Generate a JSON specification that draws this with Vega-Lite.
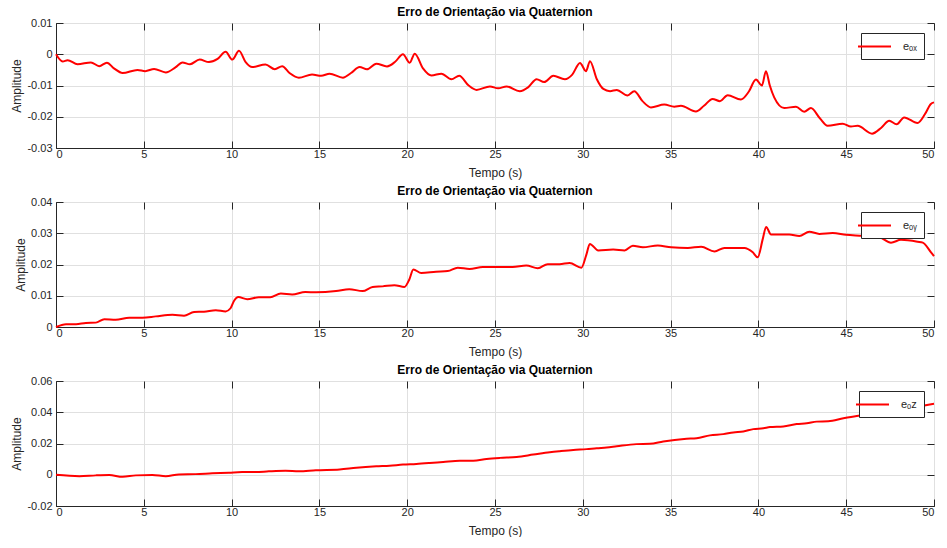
{
  "$schema": "https://vega.github.io/schema/vega-lite/v6.json",
  "background": "white",
  "padding": {"left": 10, "top": 5, "right": 0, "bottom": 0},
  "bounds": "flush",
  "spacing": 54,
  "config": {
    "font": "Liberation Sans",
    "view": {"stroke": "#262626", "strokeWidth": 1},
    "axis": {
      "domainColor": "#262626", "tickColor": "#262626", "labelColor": "#262626", "titleColor": "#262626",
      "labelFontSize": 11, "titleFontSize": 12, "titleFontWeight": "normal",
      "gridColor": "#e0e0e0", "gridWidth": 1, "tickSize": -7, "tickWidth": 1
    },
    "axisY": {"labelPadding": 11, "titlePadding": 3},
    "title": {"fontSize": 12, "fontWeight": "bold", "color": "#000000", "offset": -2},
    "legend": {
      "orient": "top-right", "offset": 10, "symbolType": "M-3,0H3", "symbolStrokeWidth": 2, "symbolSize": 121,
      "strokeColor": "#262626", "fillColor": "white", "padding": 7, "labelFontSize": 11, "labelColor": "#262626", "cornerRadius": 0, "labelOffset": 22
    }
  },
  "resolve": {"scale": {"color": "independent"}, "legend": {"color": "independent"}},
  "datasets": {
    "ox": [
      {"t":0,"v":0},{"t":0.38,"v":-0.0023},{"t":0.66,"v":-0.0019},{"t":1.23,"v":-0.0032},{"t":1.99,"v":-0.0026},{"t":2.46,"v":-0.0038},{"t":2.9,"v":-0.0027},{"t":3.3,"v":-0.0045},{"t":3.79,"v":-0.006},{"t":4.64,"v":-0.005},{"t":5.08,"v":-0.0054},{"t":5.59,"v":-0.0047},{"t":6.25,"v":-0.0058},{"t":6.8,"v":-0.0042},{"t":7.2,"v":-0.0026},{"t":7.63,"v":-0.0032},{"t":8.18,"v":-0.0017},{"t":8.71,"v":-0.0025},{"t":9.2,"v":-0.0015},{"t":9.66,"v":0.0008},{"t":10.04,"v":-0.0017},{"t":10.42,"v":0.0011},{"t":10.8,"v":-0.0025},{"t":11.17,"v":-0.0041},{"t":11.93,"v":-0.0033},{"t":12.46,"v":-0.0048},{"t":12.88,"v":-0.0038},{"t":13.3,"v":-0.006},{"t":13.83,"v":-0.0075},{"t":14.58,"v":-0.0065},{"t":15.1,"v":-0.0069},{"t":15.58,"v":-0.0062},{"t":16.34,"v":-0.0075},{"t":16.8,"v":-0.006},{"t":17.29,"v":-0.0041},{"t":17.71,"v":-0.0048},{"t":18.24,"v":-0.003},{"t":18.85,"v":-0.0039},{"t":19.3,"v":-0.0025},{"t":19.76,"v":0.0},{"t":20.14,"v":-0.0027},{"t":20.43,"v":0.0002},{"t":20.9,"v":-0.0045},{"t":21.38,"v":-0.0068},{"t":21.95,"v":-0.0062},{"t":22.52,"v":-0.008},{"t":22.96,"v":-0.0069},{"t":23.5,"v":-0.01},{"t":23.95,"v":-0.0114},{"t":24.71,"v":-0.0103},{"t":25.18,"v":-0.0109},{"t":25.66,"v":-0.0103},{"t":26.41,"v":-0.0118},{"t":26.9,"v":-0.0105},{"t":27.37,"v":-0.008},{"t":27.8,"v":-0.0089},{"t":28.32,"v":-0.0069},{"t":28.98,"v":-0.008},{"t":29.4,"v":-0.0065},{"t":29.84,"v":-0.0028},{"t":30.18,"v":-0.0054},{"t":30.41,"v":-0.0022},{"t":30.8,"v":-0.008},{"t":31.17,"v":-0.0111},{"t":31.55,"v":-0.0118},{"t":31.93,"v":-0.0114},{"t":32.55,"v":-0.0132},{"t":32.93,"v":-0.0118},{"t":33.4,"v":-0.015},{"t":33.88,"v":-0.017},{"t":34.64,"v":-0.0161},{"t":35.21,"v":-0.0168},{"t":35.59,"v":-0.0165},{"t":36.44,"v":-0.0183},{"t":36.9,"v":-0.0165},{"t":37.39,"v":-0.0143},{"t":37.81,"v":-0.015},{"t":38.25,"v":-0.0131},{"t":39.0,"v":-0.0145},{"t":39.45,"v":-0.012},{"t":39.86,"v":-0.0081},{"t":40.2,"v":-0.01},{"t":40.43,"v":-0.0054},{"t":40.65,"v":-0.01},{"t":40.9,"v":-0.0138},{"t":41.47,"v":-0.0172},{"t":42.14,"v":-0.0168},{"t":42.61,"v":-0.0184},{"t":42.99,"v":-0.0172},{"t":43.5,"v":-0.0205},{"t":43.94,"v":-0.0229},{"t":44.8,"v":-0.0222},{"t":45.27,"v":-0.0231},{"t":45.65,"v":-0.0229},{"t":46.47,"v":-0.0254},{"t":47.0,"v":-0.0235},{"t":47.45,"v":-0.0213},{"t":47.87,"v":-0.0224},{"t":48.3,"v":-0.0202},{"t":49.06,"v":-0.022},{"t":49.5,"v":-0.019},{"t":49.82,"v":-0.0159},{"t":50,"v":-0.0154}
    ],
    "oy": [
      {"t":0,"v":0},{"t":0.57,"v":0.0009},{"t":1.14,"v":0.0009},{"t":1.7,"v":0.0013},{"t":2.27,"v":0.0014},{"t":2.75,"v":0.0025},{"t":3.4,"v":0.0023},{"t":4.17,"v":0.003},{"t":4.92,"v":0.003},{"t":5.68,"v":0.0034},{"t":6.63,"v":0.0039},{"t":7.29,"v":0.0036},{"t":7.86,"v":0.0048},{"t":8.43,"v":0.0049},{"t":9.1,"v":0.0054},{"t":9.66,"v":0.005},{"t":9.94,"v":0.006},{"t":10.15,"v":0.0085},{"t":10.38,"v":0.0096},{"t":10.89,"v":0.0089},{"t":11.55,"v":0.0095},{"t":12.2,"v":0.0095},{"t":12.8,"v":0.0107},{"t":13.45,"v":0.0104},{"t":14.2,"v":0.0112},{"t":14.81,"v":0.0111},{"t":15.95,"v":0.0115},{"t":16.7,"v":0.0121},{"t":17.46,"v":0.0115},{"t":18.03,"v":0.0128},{"t":18.6,"v":0.013},{"t":19.27,"v":0.0134},{"t":19.84,"v":0.0128},{"t":20.12,"v":0.0152},{"t":20.35,"v":0.0184},{"t":20.8,"v":0.0173},{"t":21.64,"v":0.0177},{"t":22.31,"v":0.0179},{"t":22.88,"v":0.019},{"t":23.55,"v":0.0186},{"t":24.31,"v":0.0192},{"t":25.07,"v":0.0192},{"t":26.0,"v":0.0192},{"t":26.78,"v":0.0197},{"t":27.44,"v":0.0188},{"t":28.0,"v":0.0201},{"t":28.68,"v":0.0201},{"t":29.25,"v":0.0205},{"t":29.92,"v":0.019},{"t":30.2,"v":0.0231},{"t":30.4,"v":0.0266},{"t":30.88,"v":0.0245},{"t":31.73,"v":0.0248},{"t":32.38,"v":0.0245},{"t":32.85,"v":0.026},{"t":33.42,"v":0.0255},{"t":34.27,"v":0.0261},{"t":35.03,"v":0.0255},{"t":35.98,"v":0.0253},{"t":36.74,"v":0.0257},{"t":37.5,"v":0.0242},{"t":38.06,"v":0.0253},{"t":39.2,"v":0.0253},{"t":39.68,"v":0.0239},{"t":39.96,"v":0.0223},{"t":40.25,"v":0.0282},{"t":40.44,"v":0.032},{"t":40.72,"v":0.0296},{"t":41.76,"v":0.0296},{"t":42.33,"v":0.0291},{"t":42.9,"v":0.0305},{"t":43.47,"v":0.0298},{"t":44.23,"v":0.0301},{"t":44.99,"v":0.0295},{"t":45.94,"v":0.0292},{"t":46.89,"v":0.0287},{"t":47.55,"v":0.027},{"t":48.12,"v":0.0279},{"t":49.07,"v":0.0273},{"t":49.36,"v":0.027},{"t":49.83,"v":0.0239},{"t":50,"v":0.0227}
    ],
    "oz": [
      {"t":0,"v":0},{"t":1.33,"v":-0.0009},{"t":2.27,"v":-0.0004},{"t":3.03,"v":-0.0002},{"t":3.79,"v":-0.0013},{"t":4.55,"v":-0.0004},{"t":5.49,"v":-0.0002},{"t":6.25,"v":-0.0009},{"t":7.0,"v":0.0002},{"t":7.95,"v":0.0004},{"t":8.9,"v":0.0009},{"t":9.85,"v":0.0013},{"t":10.6,"v":0.0017},{"t":11.36,"v":0.0017},{"t":12.12,"v":0.0022},{"t":13.07,"v":0.0026},{"t":13.83,"v":0.0022},{"t":14.8,"v":0.0029},{"t":16.15,"v":0.0034},{"t":17.1,"v":0.0045},{"t":18.24,"v":0.0054},{"t":19.0,"v":0.0058},{"t":19.76,"v":0.0065},{"t":20.52,"v":0.0069},{"t":21.28,"v":0.0075},{"t":22.05,"v":0.0082},{"t":23.0,"v":0.009},{"t":23.76,"v":0.009},{"t":24.52,"v":0.0101},{"t":25.28,"v":0.0108},{"t":26.23,"v":0.0114},{"t":27.18,"v":0.0129},{"t":28.12,"v":0.0144},{"t":28.7,"v":0.0151},{"t":29.46,"v":0.0159},{"t":30.22,"v":0.0164},{"t":30.79,"v":0.017},{"t":31.36,"v":0.0174},{"t":31.93,"v":0.0182},{"t":33.05,"v":0.0196},{"t":33.82,"v":0.0198},{"t":34.58,"v":0.0213},{"t":35.91,"v":0.023},{"t":36.48,"v":0.0234},{"t":37.24,"v":0.0252},{"t":38.0,"v":0.026},{"t":38.57,"v":0.0271},{"t":39.14,"v":0.0277},{"t":39.71,"v":0.0292},{"t":40.28,"v":0.0297},{"t":40.66,"v":0.0305},{"t":41.42,"v":0.0309},{"t":42.18,"v":0.0325},{"t":42.75,"v":0.0329},{"t":43.32,"v":0.034},{"t":43.98,"v":0.0342},{"t":44.84,"v":0.0361},{"t":45.6,"v":0.0376},{"t":46.5,"v":0.039},{"t":47.3,"v":0.0405},{"t":48.2,"v":0.042},{"t":49.0,"v":0.0435},{"t":49.6,"v":0.0447},{"t":50,"v":0.0454}
    ]
  },
  "vconcat": [
    {
      "width": 878, "height": 125,
      "title": "Erro de Orientação via Quaternion",
      "data": {"name": "ox"},
      "transform": [{"calculate": "'eₒₓ'", "as": "s"}],
      "layer": [
        {
          "mark": {"type": "line", "strokeWidth": 2, "interpolate": "monotone"},
          "encoding": {
            "x": {"field": "t", "type": "quantitative", "scale": {"domain": [0, 50], "nice": false}, "axis": {"values": [0,5,10,15,20,25,30,35,40,45,50], "title": "Tempo (s)", "labelPadding": 7, "titlePadding": 8}},
            "y": {"field": "v", "type": "quantitative", "scale": {"domain": [-0.03, 0.01], "nice": false, "zero": false}, "axis": {"values": [-0.03,-0.02,-0.01,0,0.01], "labelExpr": "datum.value + ''", "title": "Amplitude"}},
            "color": {"field": "s", "type": "nominal", "scale": {"range": ["#ff0000"]}, "legend": {"title": null}}
          }
        },
        {
          "mark": {"type": "line", "opacity": 0},
          "encoding": {
            "x": {"field": "t", "type": "quantitative", "axis": {"orient": "top", "values": [0,5,10,15,20,25,30,35,40,45,50], "labels": false, "title": null, "grid": false, "domain": false, "labelPadding": 0, "minExtent": 0, "maxExtent": 0}},
            "y": {"field": "v", "type": "quantitative", "axis": {"orient": "right", "values": [-0.03,-0.02,-0.01,0,0.01], "labels": false, "title": null, "grid": false, "domain": false, "labelPadding": 0, "minExtent": 0, "maxExtent": 0}}
          }
        }
      ],
      "resolve": {"axis": {"x": "independent", "y": "independent"}}
    },
    {
      "width": 878, "height": 125,
      "title": "Erro de Orientação via Quaternion",
      "data": {"name": "oy"},
      "transform": [{"calculate": "'eₒᵧ'", "as": "s"}],
      "layer": [
        {
          "mark": {"type": "line", "strokeWidth": 2, "interpolate": "monotone"},
          "encoding": {
            "x": {"field": "t", "type": "quantitative", "scale": {"domain": [0, 50], "nice": false}, "axis": {"values": [0,5,10,15,20,25,30,35,40,45,50], "title": "Tempo (s)", "labelPadding": 7, "titlePadding": 8}},
            "y": {"field": "v", "type": "quantitative", "scale": {"domain": [0, 0.04], "nice": false, "zero": false}, "axis": {"values": [0,0.01,0.02,0.03,0.04], "labelExpr": "datum.value + ''", "title": "Amplitude"}},
            "color": {"field": "s", "type": "nominal", "scale": {"range": ["#ff0000"]}, "legend": {"title": null}}
          }
        },
        {
          "mark": {"type": "line", "opacity": 0},
          "encoding": {
            "x": {"field": "t", "type": "quantitative", "axis": {"orient": "top", "values": [0,5,10,15,20,25,30,35,40,45,50], "labels": false, "title": null, "grid": false, "domain": false, "labelPadding": 0, "minExtent": 0, "maxExtent": 0}},
            "y": {"field": "v", "type": "quantitative", "axis": {"orient": "right", "values": [0,0.01,0.02,0.03,0.04], "labels": false, "title": null, "grid": false, "domain": false, "labelPadding": 0, "minExtent": 0, "maxExtent": 0}}
          }
        }
      ],
      "resolve": {"axis": {"x": "independent", "y": "independent"}}
    },
    {
      "width": 878, "height": 125,
      "title": "Erro de Orientação via Quaternion",
      "data": {"name": "oz"},
      "transform": [{"calculate": "'eₒz'", "as": "s"}],
      "layer": [
        {
          "mark": {"type": "line", "strokeWidth": 2, "interpolate": "monotone"},
          "encoding": {
            "x": {"field": "t", "type": "quantitative", "scale": {"domain": [0, 50], "nice": false}, "axis": {"values": [0,5,10,15,20,25,30,35,40,45,50], "title": "Tempo (s)", "labelPadding": 7, "titlePadding": 8}},
            "y": {"field": "v", "type": "quantitative", "scale": {"domain": [-0.02, 0.06], "nice": false, "zero": false}, "axis": {"values": [-0.02,0,0.02,0.04,0.06], "labelExpr": "datum.value + ''", "title": "Amplitude"}},
            "color": {"field": "s", "type": "nominal", "scale": {"range": ["#ff0000"]}, "legend": {"title": null}}
          }
        },
        {
          "mark": {"type": "line", "opacity": 0},
          "encoding": {
            "x": {"field": "t", "type": "quantitative", "axis": {"orient": "top", "values": [0,5,10,15,20,25,30,35,40,45,50], "labels": false, "title": null, "grid": false, "domain": false, "labelPadding": 0, "minExtent": 0, "maxExtent": 0}},
            "y": {"field": "v", "type": "quantitative", "axis": {"orient": "right", "values": [-0.02,0,0.02,0.04,0.06], "labels": false, "title": null, "grid": false, "domain": false, "labelPadding": 0, "minExtent": 0, "maxExtent": 0}}
          }
        }
      ],
      "resolve": {"axis": {"x": "independent", "y": "independent"}}
    }
  ]
}
